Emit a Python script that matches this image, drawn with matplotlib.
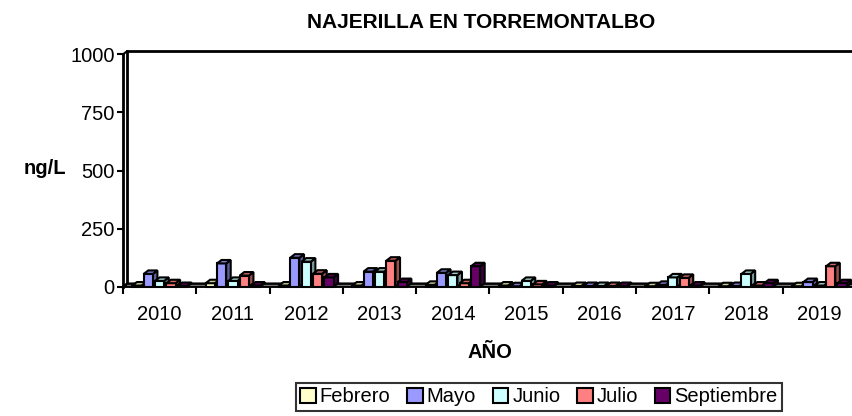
import matplotlib
matplotlib.use("Agg")
import matplotlib.pyplot as plt
from matplotlib.patches import Polygon, Patch
import numpy as np

plt.rcParams['font.family'] = ['Liberation Sans', 'DejaVu Sans']

years = ['2010', '2011', '2012', '2013', '2014', '2015', '2016', '2017', '2018', '2019']
series = ['Febrero', 'Mayo', 'Junio', 'Julio', 'Septiembre']
febrero    = [5, 15, 5, 5, 8, 5, 3, 2, 2, 2]
mayo       = [55, 100, 125, 65, 60, 2, 3, 8, 3, 20]
junio      = [25, 25, 108, 65, 50, 25, 3, 40, 55, 5]
julio      = [15, 48, 56, 112, 15, 10, 3, 38, 5, 88]
septiembre = [3, 5, 40, 20, 88, 5, 3, 5, 15, 15]
values = [febrero, mayo, junio, julio, septiembre]

front_colors = ['#FFFFCC', '#9999FF', '#CCFFFF', '#FF8080', '#660066']
top_colors   = ['#CCCC99', '#7A7ACC', '#A3CCCC', '#CC6666', '#520052']
side_colors  = ['#99997A', '#5C5C99', '#7A9999', '#994D4D', '#3D003D']

W, H = 853, 416
fig = plt.figure(figsize=(W / 100, H / 100), dpi=100)
x0, x1 = 123, 856
ytop, ybot = 54.3, 286.7
ax = fig.add_axes([x0 / W, 1 - ybot / H, (x1 - x0) / W, (ybot - ytop) / H])
ax.set_xlim(-0.5, len(years) - 0.5)
ax.set_ylim(0, 1000)
for s in ax.spines.values():
    s.set_visible(False)

dx, dy = 0.055, 13.0   # depth offsets in data units
n = len(years)

# back wall lines
ax.plot([-0.5 + dx, -0.5 + dx, n - 0.5 + dx], [dy, 1000 + dy, 1000 + dy],
        color='black', lw=2, clip_on=False, zorder=1, solid_joinstyle='miter')
# front y axis
ax.plot([-0.5, -0.5], [0, 1000], color='black', lw=2, clip_on=False, zorder=1)
ax.plot([-0.5, -0.5 + dx], [1000, 1000 + dy], color='black', lw=1.5, clip_on=False, zorder=1)
# floor
floor = Polygon([(-0.5, 0), (n - 0.5, 0), (n - 0.5 + dx, dy), (-0.5 + dx, dy)],
                closed=True, facecolor='white', edgecolor='black', lw=1.8,
                clip_on=False, zorder=2)
ax.add_patch(floor)

bw = 0.125
step = 0.155
bdx, bdy = 0.062, 15.0
xc = np.arange(n)
for j in range(n):
    for i, vals in enumerate(values):
        v = vals[j]
        left = xc[j] + (i - 2) * step - bw / 2
        right = left + bw
        front = Polygon([(left, 0), (right, 0), (right, v), (left, v)], closed=True,
                        facecolor=front_colors[i], edgecolor='black', lw=1.5,
                        clip_on=False, zorder=3, joinstyle='miter')
        top = Polygon([(left, v), (right, v), (right + bdx, v + bdy), (left + bdx, v + bdy)],
                      closed=True, facecolor=top_colors[i], edgecolor='black', lw=1.5,
                      clip_on=False, zorder=3, joinstyle='miter')
        side = Polygon([(right, 0), (right + bdx, bdy), (right + bdx, v + bdy), (right, v)],
                       closed=True, facecolor=side_colors[i], edgecolor='black', lw=1.5,
                       clip_on=False, zorder=3, joinstyle='miter')
        for p in (side, front, top):
            ax.add_patch(p)

# ticks
ax.set_yticks([0, 250, 500, 750, 1000])
ax.set_yticklabels(['0', '250', '500', '750', '1000'])
ax.tick_params(axis='y', length=4, width=1.5, pad=2, labelsize=14.5, direction='out')
ax.set_xticks(xc)
ax.set_xticklabels(years)
ax.set_xticks(np.arange(n + 1) - 0.5, minor=True)
ax.tick_params(axis='x', which='major', length=0, pad=13, labelsize=14.5)
ax.tick_params(axis='x', which='minor', length=5, width=1.5, direction='out')

fig.text(481 / W, 1 - 22 / H, 'NAJERILLA EN TORREMONTALBO', ha='center', va='center',
         fontsize=15, fontweight='bold')
fig.text(45 / W, 1 - 168 / H, 'ng/L', ha='center', va='center', fontsize=14.5, fontweight='bold')
fig.text(490 / W, 1 - 352 / H, 'AÑO', ha='center', va='center', fontsize=14.5, fontweight='bold')

handles = [Patch(facecolor=c, edgecolor='black', lw=1.5) for c in front_colors]
leg = fig.legend(handles, series, loc='center', bbox_to_anchor=(539 / W, 1 - 397 / H),
                 ncol=5, fontsize=14.5, frameon=True, fancybox=False,
                 handlelength=0.75, handleheight=0.75, handletextpad=0.2,
                 columnspacing=0.85, borderpad=0.2, borderaxespad=0)
leg.get_frame().set_edgecolor('black')
leg.get_frame().set_linewidth(1.5)

fig.savefig('out.png', dpi=100)
